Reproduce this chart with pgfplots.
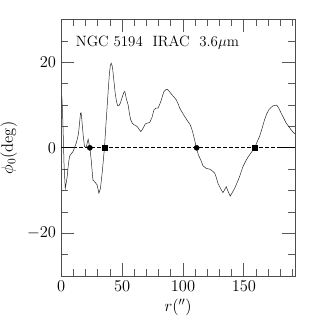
\documentclass[border=0pt]{standalone}
\usepackage{pgfplots}
\pgfplotsset{compat=1.18}

\begin{document}
\begin{tikzpicture}
% page = 332 x 332 bp, axis box at 61..295 (x) and 19..276 (y) px
\path[use as bounding box] (-61.3bp,-56bp) rectangle (270.7bp,276.3bp);
\begin{axis}[
    at={(0,0)}, anchor=south west,
    scale only axis,
    width=234bp, height=256.7bp,
    xmin=0, xmax=192,
    ymin=-30, ymax=30,
    xtick={0,50,100,150},
    minor xtick={10,20,30,40,60,70,80,90,110,120,130,140,160,170,180,190},
    ytick={-20,0,20},
    minor ytick={-25,-15,-10,-5,5,10,15,25},
    tick align=inside,
    tick pos=both,
    major tick length=12.7bp,
    minor tick length=6.7bp,
    every tick/.style={black!65, line width=0.8pt},
    axis line style={black!70, line width=0.6pt},
    tick label style={font=\fontsize{14.4}{16}\selectfont, scale=1.15},
    xticklabel style={yshift=-1bp},
    yticklabel style={xshift=-1bp},
    xlabel={$r(^{\prime\prime})$},
    ylabel={$\phi_0(\mathrm{deg})$},
    label style={font=\fontsize{14.4}{16}\selectfont, scale=1.15},
    xlabel style={yshift=-1.5bp, inner sep=1bp},
    ylabel style={yshift=2bp},
    clip=false,
]
% zero line
\addplot[black, line width=0.9pt] coordinates {(0,0) (10,0)};
\addplot[black, line width=0.9pt] coordinates {(180,0) (192,0)};
\addplot[black, line width=0.9pt, dash pattern=on 3.5bp off 2.5bp] coordinates {(10,0) (180,0)};
% phi_0 profile
\addplot[black!85, line width=0.5pt] coordinates {
(0.5,12) (1.0,9) (1.6,3.4) (2.3,-4) (3.3,-9.5) (4.2,-8) (4.9,-6.7) (5.8,-4) (6.8,-2)
(8.2,-1.4) (9.6,-0.9) (11,0.1) (12.3,1.1) (13.3,2.2) (14.2,3.4) (15.1,6) (15.8,8.1)
(16.3,8.2) (16.9,6.6) (18,3) (19.1,0.3) (20.5,0.1) (21.4,1.2) (22.1,2) (22.8,1)
(23.5,0) (24.6,-2.8) (26,-7.5) (27.9,-8.1) (29.5,-8.7) (30.9,-10.6) (32.2,-9.5)
(33.6,-5.9) (35.5,0) (36.6,5) (37.7,9.7) (38.7,14) (39.6,17.5) (40.3,19.2) (41,19.8)
(41.7,19.3) (42.3,18.3) (43.3,15.5) (44.3,12.8) (45.4,10.8) (46.4,9.8) (47.5,9.9)
(48.6,10.5) (50,11.8) (51.4,13) (52.2,13.2) (53.6,11.3) (54.9,10.1) (56,8) (57.1,6.5)
(58.5,5.7) (59.8,5.4) (61.2,5.2) (62.6,4.9) (64,4.3) (65.3,3.8) (66.2,4.1) (67.2,4.6)
(69.1,5.6) (70.8,5.8) (72.6,5.9) (74.4,7) (76.2,8.9) (77.8,9.3) (79.5,9.3) (80.9,10.2)
(82.2,11.2) (83.3,12.3) (84.4,13.2) (85.8,13.6) (87.1,13.7) (88.7,13.2) (90.4,12.6)
(92.5,11.9) (94.5,11.2) (96,10.3) (97.3,9.3) (99.3,8.3) (101.4,7.3) (103.5,6.4)
(105.5,5.6) (107,4.6) (108.2,3.4) (109.6,1.8) (110.9,0) (112.7,-1.7) (114.5,-2.8)
(116.4,-4.2) (119,-4.8) (121.9,-5) (124,-5.4) (126,-5.9) (127.4,-7) (128.7,-8.3)
(130.8,-9.5) (132.8,-10.5) (134.2,-9.8) (135.5,-9.1) (137.2,-10.3) (138.8,-11.3)
(140.6,-10.4) (142.4,-9.5) (144.5,-8.1) (146.5,-6.7) (147.9,-5.5) (149.2,-4.4)
(151.3,-3.2) (153.3,-2.2) (156,-1.1) (158.8,0) (160.9,1.4) (162.9,2.7) (165,4.6)
(167,6.6) (168.8,8) (170.5,8.9) (172.2,9.4) (173.8,9.8) (175.5,9.9) (177,10)
(178.8,9.2) (180.6,8.1) (182.6,7) (184.7,5.8) (186.8,5) (188.8,4.2) (190.3,3.7) (191.8,3.3)
};
% zero crossings
\addplot[only marks, mark=*, mark size=2.6bp, black] coordinates {(23.5,0) (111.2,0)};
\addplot[only marks, mark=square*, mark size=2.5bp, black] coordinates {(35.3,0) (159,0)};
\node[anchor=west, font=\fontsize{14.4}{16}\selectfont, scale=1.04] at (axis cs:9,24.7)
    {NGC\ 5194\ \ IRAC\ \ 3.6$\mu$m};
\end{axis}
\end{tikzpicture}
\end{document}
